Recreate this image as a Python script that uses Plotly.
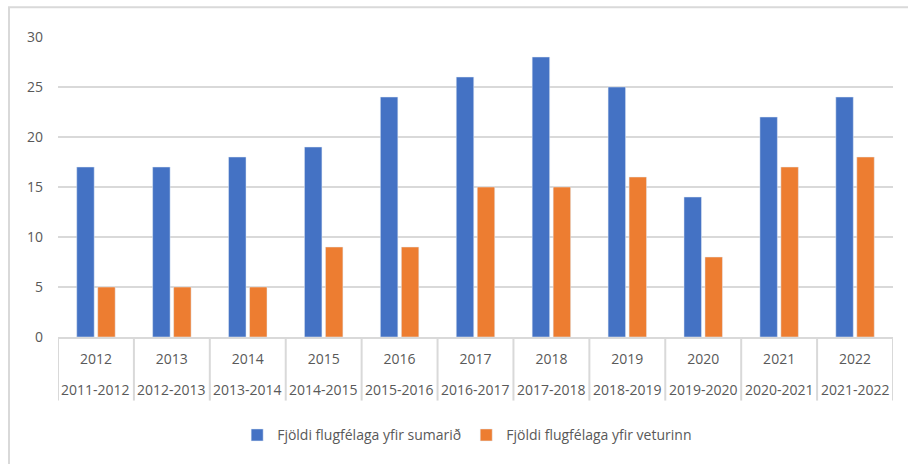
import plotly.graph_objects as go

# Number of airlines operating per season
years = ["2012", "2013", "2014", "2015", "2016", "2017", "2018", "2019", "2020", "2021", "2022"]
seasons = ["2011-2012", "2012-2013", "2013-2014", "2014-2015", "2015-2016", "2016-2017",
           "2017-2018", "2018-2019", "2019-2020", "2020-2021", "2021-2022"]
summer = [17, 17, 18, 19, 24, 26, 28, 25, 14, 22, 24]
winter = [5, 5, 5, 9, 9, 15, 15, 16, 8, 17, 18]

summer_name = "Fjöldi flugfélaga yfir sumarið"
winter_name = "Fjöldi flugfélaga yfir veturinn"

FONT = "Open Sans"
GREY_TXT = "#595959"
GRID = "#D9D9D9"
FS = 14

pos = list(range(len(years)))

fig = go.Figure()
fig.add_trace(go.Bar(x=pos, y=summer, name=summer_name, marker_color="#4472C4"))
fig.add_trace(go.Bar(x=pos, y=winter, name=winter_name, marker_color="#ED7D31"))

# plot area spans pixels 37..339 vertically (302 px)
def py(pix):
    return (339 - pix) / 302

# second category row: season labels
for i, s in enumerate(seasons):
    fig.add_annotation(x=i, y=py(392), xref="x", yref="paper", text=s, showarrow=False,
                       font=dict(family=FONT, size=FS, color=GREY_TXT),
                       xanchor="center", yanchor="middle")

# category dividers running through both label rows
for k in range(len(years) + 1):
    fig.add_shape(type="line", xref="x", yref="paper", x0=k - 0.5, x1=k - 0.5,
                  y0=0, y1=py(403), line=dict(color=GRID, width=2))

# outer chart frame
fig.add_shape(type="rect", xref="paper", yref="paper",
              x0=-0.0587, x1=1.1, y0=-0.5, y1=py(7),
              line=dict(color=GRID, width=2), fillcolor="rgba(0,0,0,0)", layer="below")

fig.update_layout(
    width=908, height=464,
    margin=dict(l=58, r=15, t=37, b=125),
    paper_bgcolor="white", plot_bgcolor="white",
    barmode="group", bargap=0.447, bargroupgap=0.167,
    font=dict(family=FONT, size=FS, color=GREY_TXT),
    legend=dict(orientation="h", x=0.49, xanchor="center", y=py(438), yanchor="middle",
                font=dict(size=FS, color=GREY_TXT)),
    xaxis=dict(range=[-0.5, len(years) - 0.5], tickvals=pos, ticktext=years,
               showgrid=False, zeroline=False, showline=True, linecolor=GRID, linewidth=2,
               ticks="", ticklabelstandoff=8, tickfont=dict(size=FS, color=GREY_TXT)),
    yaxis=dict(range=[0, 30], dtick=5, showgrid=True, gridcolor=GRID, gridwidth=1.5,
               zeroline=False, showline=False, ticks="", ticklabelstandoff=14,
               tickfont=dict(size=FS, color=GREY_TXT)),
)

fig.write_html("out.html")
